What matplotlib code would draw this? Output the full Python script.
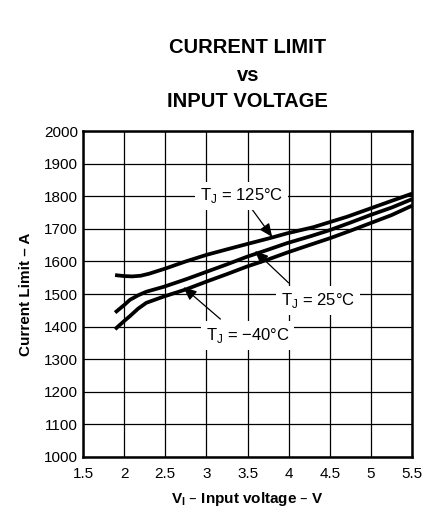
import matplotlib.pyplot as plt

plt.rcParams['font.family'] = ['Liberation Sans', 'DejaVu Sans']

# input voltage (V) and current limit (A)
v_125 = [1.89, 2.0, 2.1, 2.2, 2.3, 2.4, 2.5, 2.75, 3.0, 3.25, 3.49, 3.75, 3.98, 4.3, 4.71, 5.11, 5.5]
i_125 = [1558, 1555, 1554, 1556, 1562, 1570, 1578, 1600, 1620, 1637, 1653, 1670, 1686, 1705, 1737, 1773, 1808]

v_25 = [1.89, 2.0, 2.07, 2.17, 2.27, 2.48, 2.75, 3.0, 3.25, 3.49, 3.75, 3.98, 4.25, 4.5, 4.75, 4.99, 5.25, 5.5]
i_25 = [1443, 1466, 1482, 1496, 1507, 1522, 1545, 1568, 1591, 1614, 1636, 1656, 1676, 1696, 1719, 1742, 1765, 1791]

v_m40 = [1.89, 2.0, 2.07, 2.17, 2.27, 2.48, 2.75, 3.0, 3.25, 3.49, 3.75, 3.98, 4.25, 4.5, 4.75, 4.99, 5.25, 5.5]
i_m40 = [1392, 1417, 1432, 1455, 1473, 1492, 1514, 1538, 1561, 1584, 1606, 1627, 1650, 1671, 1694, 1717, 1742, 1771]

x_ticks = [1.5, 2, 2.5, 3, 3.5, 4, 4.5, 5, 5.5]
x_labels = ['1.5', '2', '2.5', '3', '3.5', '4', '4.5', '5', '5.5']
y_ticks = list(range(1000, 2001, 100))

fig = plt.figure(figsize=(4.34, 5.13), dpi=100)
ax = fig.add_axes([0.1912, 0.1092, 0.7583, 0.6354])

for v, i in [(v_125, i_125), (v_25, i_25), (v_m40, i_m40)]:
    ax.plot(v, i, color='black', lw=2.7, solid_capstyle='butt', solid_joinstyle='round', zorder=3)

ax.set_xlim(1.5, 5.5)
ax.set_ylim(1000, 2000)
ax.set_xticks(x_ticks)
ax.set_xticklabels(x_labels)
ax.set_yticks(y_ticks)
ax.grid(True, color='black', lw=0.9)
ax.set_axisbelow(True)
ax.tick_params(length=0, labelsize=11)
ax.tick_params(axis='x', pad=7)
ax.tick_params(axis='y', pad=3.5)
for s in ax.spines.values():
    s.set_linewidth(1.8)

ax.set_xlabel('V$_\\mathregular{I}$ – Input voltage – V', fontsize=11, fontweight='bold', labelpad=7)
ax.set_ylabel('Current Limit – A', fontsize=11, fontweight='bold', labelpad=8)

box = dict(facecolor='white', edgecolor='none', pad=3.5)
arrow = dict(arrowstyle='-|>,head_length=0.8,head_width=0.35', color='black', lw=0.9, shrinkA=0, shrinkB=0)

ax.text(3.43, 1801, 'T$_\\mathregular{J}$ = 125°C', ha='center', va='center', fontsize=12, bbox=box, zorder=5)
ax.annotate('', xy=(3.80, 1675), xytext=(3.56, 1758), arrowprops=arrow, zorder=4)

ax.text(4.36, 1480, 'T$_\\mathregular{J}$ = 25°C', ha='center', va='center', fontsize=12, bbox=box, zorder=5)
ax.annotate('', xy=(3.59, 1632), xytext=(4.0, 1534), arrowprops=arrow, zorder=4)

ax.text(3.5, 1372, 'T$_\\mathregular{J}$ = −40°C', ha='center', va='center', fontsize=12, bbox=box, zorder=5)
ax.annotate('', xy=(2.72, 1521), xytext=(3.17, 1423), arrowprops=arrow, zorder=4)

fig.text(0.571, 0.908, 'CURRENT LIMIT', ha='center', va='center', fontsize=14.5, fontweight='bold')
fig.text(0.571, 0.852, 'vs', ha='center', va='center', fontsize=14.5, fontweight='bold')
fig.text(0.571, 0.803, 'INPUT VOLTAGE', ha='center', va='center', fontsize=14.5, fontweight='bold')

fig.savefig('out.png', dpi=100)
